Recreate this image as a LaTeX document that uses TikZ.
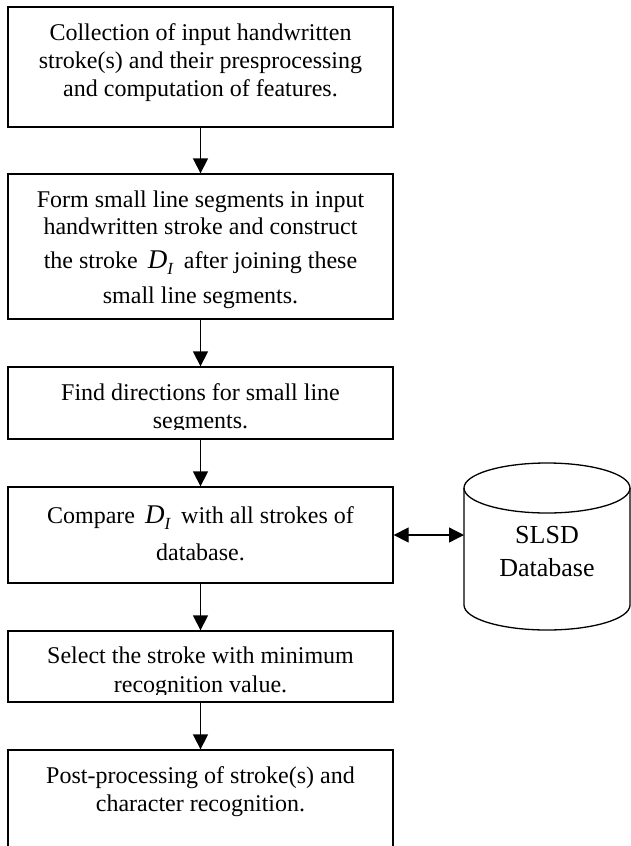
\documentclass[tikz,border=0pt]{standalone}
\usepackage{fontspec}
\setmainfont{Liberation Serif}
\usetikzlibrary{arrows.meta}
\newcommand\DsubI{{\fontsize{27}{27}\selectfont\itshape D}\raisebox{-6pt}{\fontsize{17}{17}\selectfont\itshape I}}
\begin{document}
\begin{tikzpicture}[x=1pt,y=-1pt,
  box/.style={draw, line width=1.3pt, inner sep=0pt, minimum width=385pt},
  txt/.style={anchor=base, inner sep=0pt, font=\fontsize{24}{28}\selectfont},
  dbtxt/.style={anchor=base, inner sep=0pt, font=\fontsize{26}{30}\selectfont},
  arr/.style={line width=1.3pt, -{Triangle[length=15pt,width=15pt]}},
  darr/.style={line width=1.3pt, {Triangle[length=15pt,width=15pt]}-{Triangle[length=15pt,width=15pt]}},
]
\useasboundingbox (0,0) rectangle (631,846);
% boxes
\node[box, minimum height=120pt] (b1) at (200.5,67) {};
\node[box, minimum height=145pt] (b2) at (200.5,246.5) {};
\node[box, minimum height=72pt] (b3) at (200.5,403) {};
\node[box, minimum height=96pt] (b4) at (200.5,535) {};
\node[box, minimum height=71pt] (b5) at (200.5,666.5) {};
\node[box, minimum height=150pt] (b6) at (200.5,825) {};
% arrows
\draw[arr] (b1.south) -- (b2.north);
\draw[arr] (b2.south) -- (b3.north);
\draw[arr] (b3.south) -- (b4.north);
\draw[arr] (b4.south) -- (b5.north);
\draw[arr] (b5.south) -- (b6.north);
% texts
\node[txt] (t1a) at (200.5,40) {Collection of input handwritten};
\node[txt] (t1b) at (200.5,68) {stroke(s) and their presprocessing};
\node[txt] (t1c) at (200.5,96) {and computation of features.};
\node[txt] (t2a) at (200.5,207) {Form small line segments in input};
\node[txt] (t2b) at (200.5,234) {handwritten stroke and construct};
\node[txt] (t2c) at (200.5,268) {the stroke \hspace{4pt}\DsubI\hspace{5pt} after joining these};
\node[txt] (t2d) at (200.5,303) {small line segments.};
\begin{scope}
\clip (8,367) rectangle (393,429.5);
\node[txt] (t3a) at (200.5,400) {Find directions for small line};
\node[txt] (t3b) at (200.5,428) {segments.};
\end{scope}
\node[txt] (t4a) at (200.5,523) {Compare \hspace{4pt}\DsubI\hspace{5pt} with all strokes of};
\node[txt] (t4b) at (200.5,560) {database.};
\begin{scope}
\clip (8,631) rectangle (393,694.5);
\node[txt] (t5a) at (200.5,663) {Select the stroke with minimum};
\node[txt] (t5b) at (200.5,692) {recognition value.};
\end{scope}
\node[txt] (t6a) at (200.5,783) {Post-processing of stroke(s) and};
\node[txt] (t6b) at (200.5,811) {character recognition.};
% database cylinder
\draw[line width=1.3pt] (547,488) ellipse [x radius=83pt, y radius=25pt];
\draw[line width=1.3pt] (464,488) -- (464,605) arc[start angle=180, end angle=360, x radius=83pt, y radius=25pt] -- (630,488);
\coordinate (cylL) at (464,535);
\node[dbtxt] (db1) at (547,543) {SLSD};
\node[dbtxt] (db2) at (547,576) {Database};
\draw[darr] (b4.east) -- (cylL);
\end{tikzpicture}
\end{document}
